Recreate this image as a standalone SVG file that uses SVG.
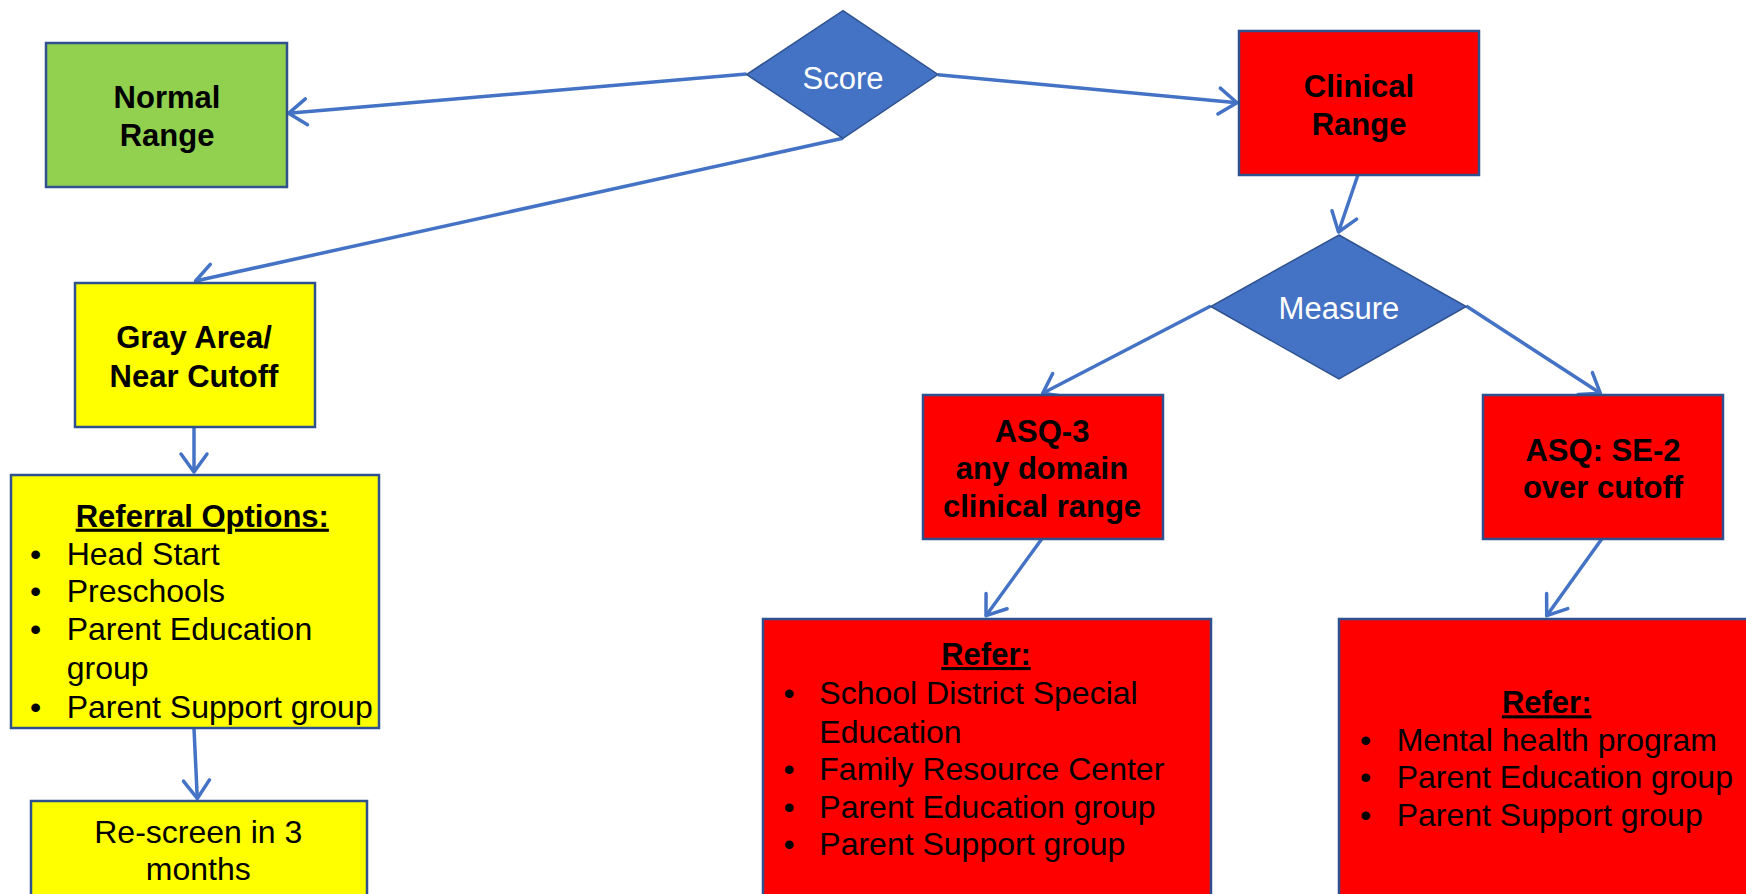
<svg xmlns="http://www.w3.org/2000/svg" width="1746" height="894" viewBox="0 0 1746 894">
<defs>
<style>
.box{stroke:#2F528F;stroke-width:2.5}
.green{fill:#92D050}
.yellow{fill:#FFFF00}
.red{fill:#FF0000}
.dia{fill:#4472C4;stroke:#2F528F;stroke-width:1.5}
.t{font-family:"Liberation Sans",Arial,sans-serif;font-size:32px;fill:#000}
.b{font-weight:bold;font-size:31px}
.c{text-anchor:middle}
.w{fill:#FFFFFF;font-size:31px}
.u{text-decoration:underline}
.con line{stroke:#4472C4;stroke-width:3.5;marker-end:url(#arr)}
</style>
<marker id="arr" markerUnits="userSpaceOnUse" viewBox="-22 -16 26 32" refX="0" refY="0" markerWidth="26" markerHeight="32" orient="auto">
<path d="M-18,-13 L0,0 L-18,13" fill="none" stroke="#4472C4" stroke-width="3.5" stroke-linecap="round" stroke-linejoin="round"/>
</marker>
</defs>
<rect width="1746" height="894" fill="#FFFFFF"/>

<g id="connectors" class="con">
<line x1="746.6" y1="74" x2="288.5" y2="113.3"/>
<line x1="843" y1="138.3" x2="195.5" y2="281"/>
<line x1="937.9" y1="74.7" x2="1237" y2="102.7"/>
<line x1="1357.9" y1="175" x2="1338.5" y2="232"/>
<line x1="1210.8" y1="306" x2="1042.7" y2="393.3"/>
<line x1="1466.2" y1="306" x2="1600.4" y2="393.3"/>
<line x1="194" y1="427" x2="194" y2="472"/>
<line x1="194" y1="728.4" x2="197.3" y2="798.5"/>
<line x1="1041.7" y1="539" x2="986" y2="615.7"/>
<line x1="1601.7" y1="539" x2="1546.7" y2="615.7"/>
</g>

<g id="score">
<polygon class="dia" points="843,10.7 937.9,74.5 843,138.3 746.6,74.5"/>
<text class="t c w" x="843" y="89.3">Score</text>
</g>

<g id="normal-range">
<rect class="box green" x="46" y="43" width="241" height="144"/>
<text class="t b c" x="167" y="108">Normal</text>
<text class="t b c" x="167" y="146">Range</text>
</g>

<g id="clinical-range">
<rect class="box red" x="1239" y="31" width="240" height="144"/>
<text class="t b c" x="1359" y="97.3">Clinical</text>
<text class="t b c" x="1359" y="135">Range</text>
</g>

<g id="measure">
<polygon class="dia" points="1338.9,235 1466.2,306.5 1338.9,379 1210.8,306.5"/>
<text class="t c w" x="1338.9" y="319.3">Measure</text>
</g>

<g id="gray-area">
<rect class="box yellow" x="75" y="283" width="240" height="144"/>
<text class="t b c" x="194" y="348.4">Gray Area/</text>
<text class="t b c" x="194" y="386.6">Near Cutoff</text>
</g>

<g id="referral-options">
<rect class="box yellow" x="11" y="475" width="368" height="253"/>
<text class="t b c u" x="202.3" y="526.7">Referral Options:</text>
<text class="t" x="30" y="564.5">•</text><text class="t" x="66.7" y="564.5">Head Start</text>
<text class="t" x="30" y="602.3">•</text><text class="t" x="66.7" y="602.3">Preschools</text>
<text class="t" x="30" y="640.1">•</text><text class="t" x="66.7" y="640.1">Parent Education</text>
<text class="t" x="66.7" y="678.7">group</text>
<text class="t" x="30" y="717.7">•</text><text class="t" x="66.7" y="717.7">Parent Support group</text>
</g>

<g id="rescreen">
<rect class="box yellow" x="31" y="801" width="336" height="120"/>
<text class="t c" x="198.3" y="843.3">Re-screen in 3</text>
<text class="t c" x="198.3" y="880">months</text>
</g>

<g id="asq3">
<rect class="box red" x="923" y="395" width="240" height="144"/>
<text class="t b c" x="1042" y="441.7">ASQ-3</text>
<text class="t b c" x="1042" y="479.3">any domain</text>
<text class="t b c" x="1042" y="516.7">clinical range</text>
</g>

<g id="asq-se2">
<rect class="box red" x="1483" y="395" width="240" height="144"/>
<text class="t b c" x="1603" y="461">ASQ: SE-2</text>
<text class="t b c" x="1603" y="498.3">over cutoff</text>
</g>

<g id="refer-asq3">
<rect class="box red" x="763" y="619" width="448" height="300"/>
<text class="t b c u" x="986" y="665">Refer:</text>
<text class="t" x="783.5" y="704.3">•</text><text class="t" x="819.3" y="704.3">School District Special</text>
<text class="t" x="819.3" y="742.7">Education</text>
<text class="t" x="783.5" y="780">•</text><text class="t" x="819.3" y="780">Family Resource Center</text>
<text class="t" x="783.5" y="817.7">•</text><text class="t" x="819.3" y="817.7">Parent Education group</text>
<text class="t" x="783.5" y="855">•</text><text class="t" x="819.3" y="855">Parent Support group</text>
</g>

<g id="refer-se2">
<rect class="box red" x="1339" y="619" width="420" height="300"/>
<text class="t b c u" x="1546.7" y="713.3">Refer:</text>
<text class="t" x="1360" y="751">•</text><text class="t" x="1396.7" y="751">Mental health program</text>
<text class="t" x="1360" y="788.3">•</text><text class="t" x="1396.7" y="788.3">Parent Education group</text>
<text class="t" x="1360" y="825.7">•</text><text class="t" x="1396.7" y="825.7">Parent Support group</text>
</g>
</svg>
